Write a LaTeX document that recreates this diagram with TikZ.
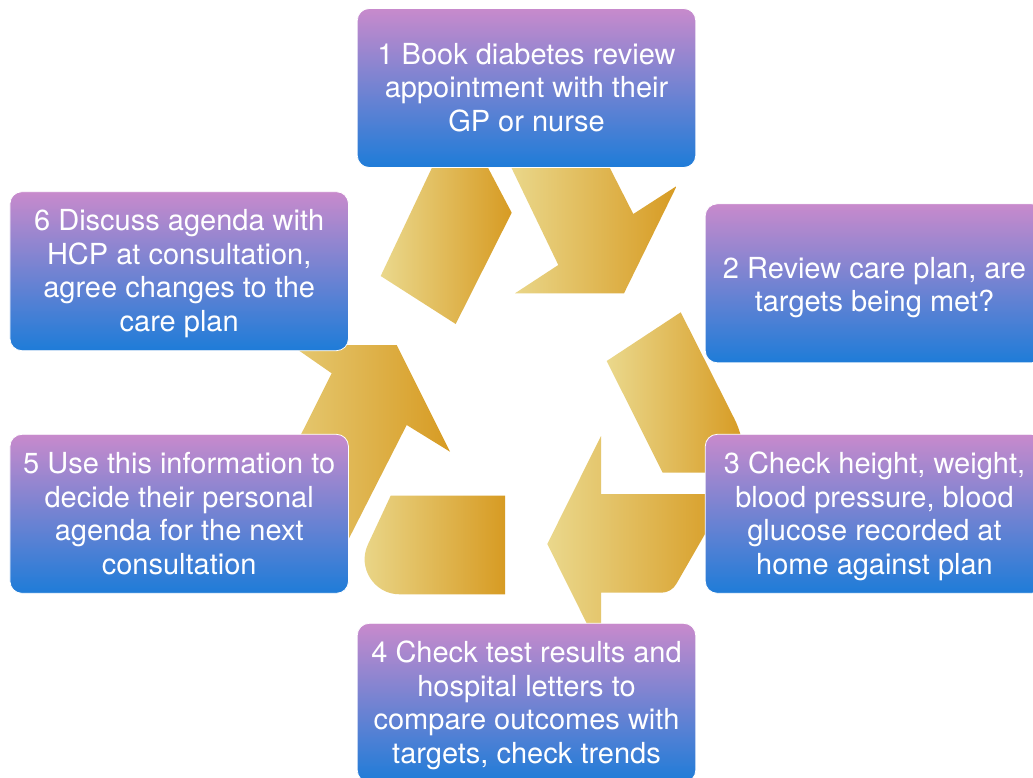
\documentclass[tikz,border=0pt]{standalone}
\usepackage{fontspec}
\setmainfont{TeX Gyre Heros}
\definecolor{boxtop}{RGB}{200,138,204}
\definecolor{boxbottom}{RGB}{30,124,216}
\definecolor{goldlight}{RGB}{234,216,140}
\definecolor{golddark}{RGB}{215,155,35}
% text block of a step box: #1 = space above the first line, #2 = the lines
\newcommand{\firststrut}{\rule{0pt}{24pt}}
\newcommand{\steplines}[2]{\parbox[c][159pt][t]{330pt}{%
  \fontsize{29}{33.5}\selectfont\centering\vspace*{#1}\firststrut #2}}
\tikzset{
  stepbox/.style={rounded corners=12pt, top color=boxtop, bottom color=boxbottom,
    draw=white, line width=0.8pt, minimum width=338.5pt, minimum height=159pt,
    text=white, inner sep=0pt},
  goldpiece/.style={left color=goldlight, right color=golddark, draw=none}
}
\begin{document}
\begin{tikzpicture}[x=1pt,y=-1pt]
\useasboundingbox (0,0) rectangle (1033,778);
\clip (0,0) rectangle (1033,778);
\fill[white] (0,0) rectangle (1033,778);

% recycling loop: three folded gold arrows, drawn under the step boxes
% top arrow: tail and head
\path[goldpiece] (435.6,160) -- (483.9,160) -- (511.7,212.7) -- (455.7,324) -- (380.7,276) -- cycle;
\path[goldpiece] (507.7,160) -- (605.8,160) -- (633.3,214) -- (676.7,186) -- (624,293.3)
  -- (515,293.3) -- (558.3,265) -- cycle;
% lower-right arrow: tail and head
\path[goldpiece] (606.7,361) -- (680.7,312.3) -- (734.5,419)
  .. controls (740.4,430.7) and (743.5,443.9) .. (743.5,457)
  -- (743.5,472.7) -- (662.7,472.7) -- cycle;
\path[goldpiece] (601,436) -- (601,494) -- (728,494) -- (676.3,584)
  .. controls (673.2,589.4) and (667.5,592.7) .. (661.3,592.7)
  -- (601,592.7) -- (601,652) -- (547.3,544) -- cycle;
% left arrow: tail and head
\path[goldpiece] (390.7,495.7) -- (505,495.7) -- (505,594.3) -- (399.7,594.3)
  .. controls (374.1,594.3) and (357.1,567.7) .. (367.9,544.5) -- cycle;
\path[goldpiece] (291,345) -- (396.7,345) -- (450,451.7) -- (406.7,425) -- (338,560)
  -- (238,560) -- (331.7,373.3) -- cycle;

% the six steps
\node[stepbox] (b1) at (526.5,88) {\steplines{32pt}{1 Book diabetes review\\appointment with their\\GP or nurse}};
\node[stepbox] (b2) at (874.5,283.3) {\steplines{50.5pt}{2 Review care plan, are\\targets being met?}};
\node[stepbox] (b3) at (874.5,513.8) {\steplines{15.25pt}{3 Check height, weight,\\blood pressure, blood\\glucose recorded at\\home against plan}};
\node[stepbox] (b4) at (526.5,702.8) {\steplines{15.25pt}{4 Check test results and\\hospital letters to\\compare outcomes with\\targets, check trends}};
\node[stepbox] (b5) at (179.2,513.8) {\steplines{15.25pt}{5 Use this information to\\decide their personal\\agenda for the next\\consultation}};
\node[stepbox] (b6) at (179.2,271.2) {\steplines{15.25pt}{6 Discuss agenda with\\HCP at consultation,\\agree changes to the\\care plan}};
\end{tikzpicture}
\end{document}
